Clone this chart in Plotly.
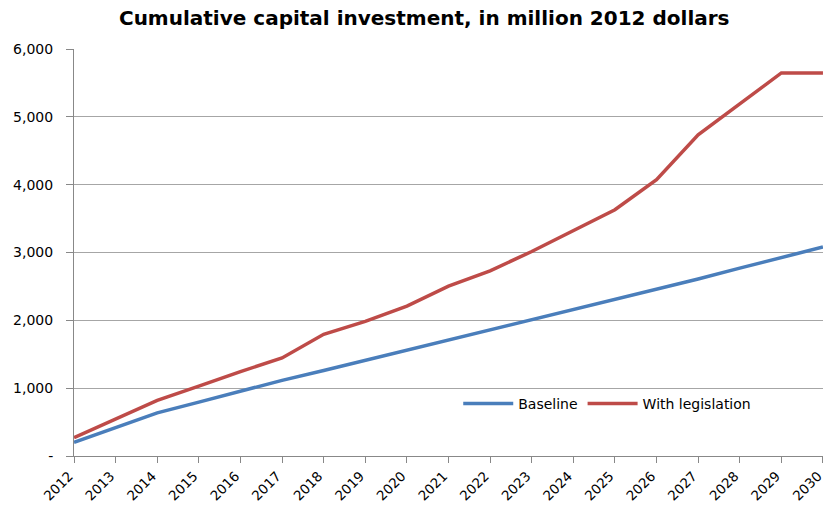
import plotly.graph_objects as go

years = list(range(2012, 2031))
baseline = [200, 415, 635, 795, 955, 1115, 1260, 1410, 1560, 1710, 1865, 2015,
            2160, 2305, 2460, 2610, 2770, 2920, 3080]
legislation = [270, 547, 820, 1030, 1245, 1445, 1795, 1985, 2210, 2505, 2730, 3015,
               3320, 3630, 4075, 4735, 5190, 5648, 5648]
ytick_vals = [0, 1000, 2000, 3000, 4000, 5000, 6000]
ytick_text = ["-", "1,000", "2,000", "3,000", "4,000", "5,000", "6,000"]

font = "DejaVu Sans"
fig = go.Figure()
fig.add_trace(go.Scatter(x=years, y=baseline, mode="lines", name="Baseline",
                         line=dict(color="#4a7ebb", width=3.5)))
fig.add_trace(go.Scatter(x=years, y=legislation, mode="lines", name="With legislation",
                         line=dict(color="#be4b48", width=3.5)))

fig.update_layout(
    width=827, height=508,
    margin=dict(l=74, r=4, t=49, b=52, autoexpand=False),
    paper_bgcolor="white", plot_bgcolor="white",
    title=dict(text="<b>Cumulative capital investment, in million 2012 dollars</b>",
               x=0.513, xanchor="center", y=0.965, yanchor="middle",
               font=dict(family=font, size=20, color="black")),
    font=dict(family=font, size=14, color="black"),
    showlegend=True,
    legend=dict(orientation="h", x=0.513, y=0.128, xanchor="left", yanchor="middle",
                bgcolor="rgba(0,0,0,0)", font=dict(size=14), itemwidth=50,
                traceorder="normal"),
    xaxis=dict(range=[2011.999, 2030.001], tickmode="array", tickvals=years,
               ticktext=[str(y) for y in years], tickangle=-45,
               ticklabeloverflow="allow", automargin=False, ticklabelshift=-5,
               showline=True, linecolor="#888888", linewidth=1,
               ticks="outside", ticklen=6, tickcolor="#888888",
               showgrid=False, zeroline=False, tickfont=dict(size=13.5)),
    yaxis=dict(range=[0, 6000], tickmode="array", tickvals=ytick_vals,
               ticktext=ytick_text, showline=True, linecolor="#888888", linewidth=1,
               ticks="outside", ticklen=7, tickcolor="#888888", ticklabelstandoff=10,
               automargin=False,
               showgrid=True, gridcolor="#a6a6a6", gridwidth=1, zeroline=False,
               tickfont=dict(size=14)),
)
fig.write_html("out.html")
